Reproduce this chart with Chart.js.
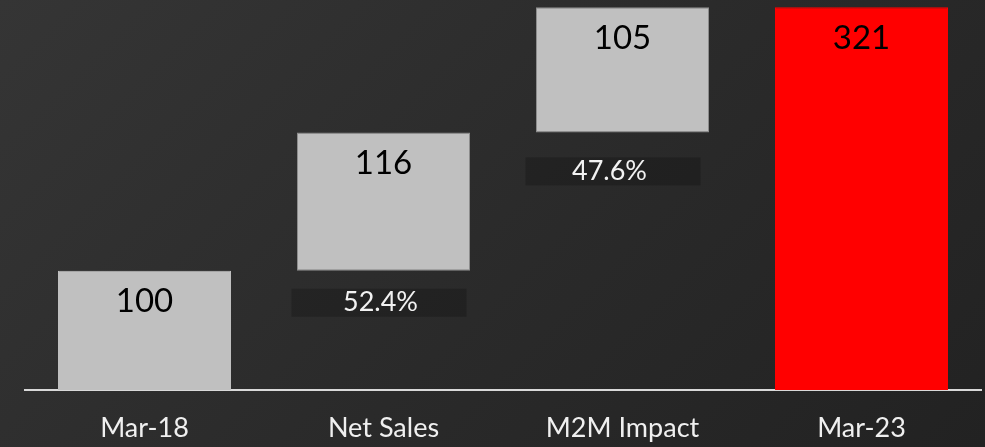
<!DOCTYPE html>
<html>
<head>
<meta charset="utf-8">
<script src="https://cdn.jsdelivr.net/npm/chart.js@4"></script>
<style>
  html, body { margin: 0; padding: 0; }
  body {
    width: 985px; height: 447px; overflow: hidden;
    background: linear-gradient(135deg, #353535 0%, #2a2a2a 55%, #222222 100%);
  }
  #wrap { width: 985px; height: 447px; position: relative; }
</style>
</head>
<body>
<div id="wrap"><canvas id="waterfall" width="985" height="447"></canvas></div>
<script>
const categories = ["Mar-18", "Net Sales", "M2M Impact", "Mar-23"];
const steps = [100, 116, 105, 321];          // value printed in each bar
const isTotal = [true, false, false, true];  // totals start at zero
const shareLabels = [null, "52.4%", "47.6%", null];

// build floating ranges for the waterfall
const ranges = [];
let running = 0;
steps.forEach(function (v, i) {
  if (isTotal[i]) {
    ranges.push([0, v]);
    running = v;
  } else {
    ranges.push([running, running + v]);
    running += v;
  }
});

const barColors = ["#c0c0c0", "#c0c0c0", "#c0c0c0", "#ff0000"];
const barEdges = ["#c0c0c0", "#8c8c8c", "#8c8c8c", "#ff0000"];

// draws the numbers inside the bars and the % tags under the floating ones
const labelPlugin = {
  id: "waterfallLabels",
  afterDatasetsDraw: function (chart, args, opts) {
    const ctx = chart.ctx;
    const meta = chart.getDatasetMeta(0);
    ctx.save();
    meta.data.forEach(function (bar, i) {
      const top = Math.min(bar.y, bar.base);
      const bottom = Math.max(bar.y, bar.base);
      ctx.textAlign = "center";
      ctx.textBaseline = "middle";
      ctx.fillStyle = "#000000";
      ctx.font = "33px Lato";
      ctx.fillText(String(steps[i]), bar.x, top + 31);

      if (shareLabels[i]) {
        const gap = opts.gaps[i];
        const shift = opts.shifts[i];
        const boxTop = bottom + gap;
        ctx.fillStyle = "rgba(0,0,0,0.2)";
        ctx.fillRect(bar.x - bar.width / 2 - 4 + shift / 2, boxTop, bar.width + 2, 28);
        ctx.fillStyle = "#f2f2f2";
        ctx.font = "27px Lato";
        ctx.fillText(shareLabels[i], bar.x + shift, boxTop + 14);
      }
    });
    ctx.restore();
  }
};

new Chart(document.getElementById("waterfall"), {
  type: "bar",
  data: {
    labels: categories,
    datasets: [{
      data: ranges,
      backgroundColor: barColors,
      borderColor: barEdges,
      borderWidth: 1,
      borderSkipped: false,
      barPercentage: 0.724,
      categoryPercentage: 1
    }]
  },
  options: {
    responsive: false,
    animation: false,
    layout: { padding: { left: 25, right: 4, top: 0, bottom: 0 } },
    plugins: {
      legend: { display: false },
      tooltip: { enabled: false },
      waterfallLabels: { gaps: [0, 18, 25, 0], shifts: [0, -3, -13, 0] }
    },
    scales: {
      x: {
        grid: { display: false, drawTicks: false },
        border: { display: true, color: "#d9d9d9", width: 2 },
        ticks: {
          color: "#f0f0f0",
          padding: 22,
          maxRotation: 0,
          font: { family: "Lato", size: 27 }
        },
        afterFit: function (scale) { scale.height = 57; }
      },
      y: {
        display: false,
        min: 0,
        max: 327
      }
    }
  },
  plugins: [labelPlugin]
});
</script>
</body>
</html>
